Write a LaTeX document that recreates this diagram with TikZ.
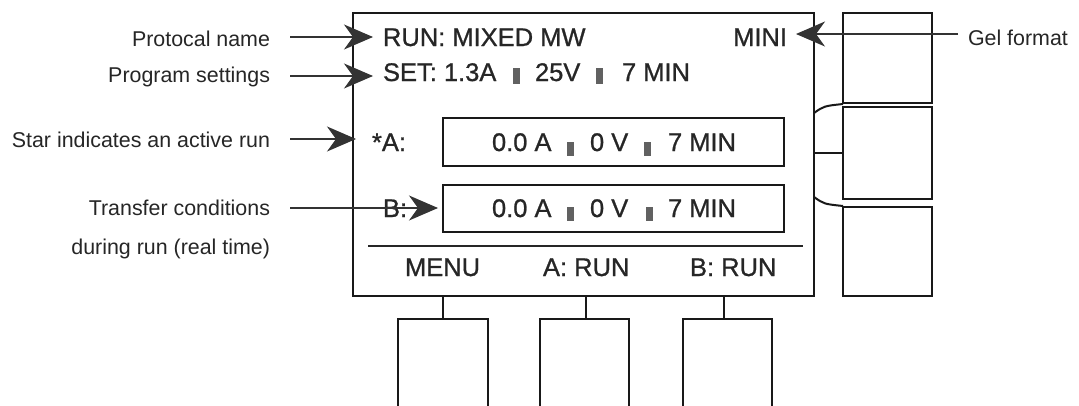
\documentclass[tikz,border=0pt]{standalone}
\usepackage{fontspec}
\setmainfont{Liberation Sans}
\newfontfamily\scrfont[FakeBold=0.9]{Liberation Sans}
\usetikzlibrary{arrows.meta}
\tikzset{
  boxline/.style={draw=black!90, line width=2.8pt},
  scr/.style={inner sep=0pt, outer sep=0pt, anchor=base west, text=black!85, font=\scrfont\fontsize{25.5}{28}\selectfont},
  lab/.style={inner sep=0pt, outer sep=0pt, anchor=base east, text=black!85, font=\fontsize{21.4}{24}\selectfont},
  pointer/.style={draw=black!80, line width=1.3pt, -{Stealth[length=29pt,width=25pt,inset=9pt]}},
  bar/.style={fill=black!62, draw=none},
  btn/.style={boxline, rectangle, inner sep=0pt, outer sep=0pt, fill=white}
}
\begin{document}
\begin{tikzpicture}[x=1pt,y=-1pt]
\useasboundingbox (0,0) rectangle (1079,405);
\fill[white] (0,0) rectangle (1079,405);
\begin{scope}
\clip (0,0) rectangle (1079,405);
% main screen
\node[btn, minimum width=461pt, minimum height=283pt] (screen) at (583.5,154.5) {};
% inner displays
\node[btn, minimum width=341pt, minimum height=48pt] (dispA) at (613.5,142) {};
\node[btn, minimum width=341pt, minimum height=47pt] (dispB) at (613.5,208.5) {};
\coordinate (sepL) at (368,246);
\coordinate (sepR) at (803,246);
\draw[draw=black!85, line width=1.6pt] (sepL) -- (sepR);
% right buttons
\node[btn, minimum width=89pt, minimum height=90pt] (r1) at (887.5,58) {};
\node[btn, minimum width=89pt, minimum height=92pt] (r2) at (887.5,153) {};
\node[btn, minimum width=89pt, minimum height=89pt] (r3) at (887.5,251.5) {};
\coordinate (c1a) at (814,113);
\coordinate (c1b) at (843,104);
\coordinate (c3a) at (814,197);
\coordinate (c3b) at (843,206);
\draw[boxline, line width=2pt] (c1a) .. controls (824,106) .. (c1b);
\draw[boxline, line width=2pt] (c3a) .. controls (824,204) .. (c3b);
\draw[boxline, line width=2pt] (r2.west) -- (r2.west -| screen.east);
% bottom buttons
\node[btn, minimum width=90pt, minimum height=101pt] (b1) at (443,369.5) {};
\node[btn, minimum width=89pt, minimum height=101pt] (b2) at (584.5,369.5) {};
\node[btn, minimum width=89pt, minimum height=101pt] (b3) at (727.5,369.5) {};
\draw[boxline] (b1.north) -- (b1.north |- screen.south);
\draw[boxline] ([xshift=1.5pt]b2.north) -- ([xshift=1.5pt]b2.north |- screen.south);
\draw[boxline] ([xshift=-3.5pt]b3.north) -- ([xshift=-3.5pt]b3.north |- screen.south);
\end{scope}
% screen texts
\node[scr] (t1) at (383,46) {RUN: MIXED MW};
\node[scr, anchor=base east] (t2) at (787,46) {MINI};
\node[scr] (t3) at (383,81) {SET: 1.3A};
\node[scr] (t4) at (535,81) {25V};
\node[scr] (t5) at (622,81) {7 MIN};
\fill[bar] (513,68) rectangle (520,84);
\fill[bar] (596,68) rectangle (603,84);
\node[scr] (a0) at (372,151) {*A:};
\node[scr] (a1) at (492,151) {0.0 A};
\node[scr] (a2) at (590,151) {0 V};
\node[scr] (a3) at (668,151) {7 MIN};
\fill[bar] (567,142) rectangle (574,156);
\fill[bar] (644,142) rectangle (651,156);
\node[scr] (bb0) at (383,217) {B:};
\node[scr] (bb1) at (492,217) {0.0 A};
\node[scr] (bb2) at (590,217) {0 V};
\node[scr] (bb3) at (668,217) {7 MIN};
\fill[bar] (567,207) rectangle (574,221);
\fill[bar] (646,207) rectangle (653,221);
\node[scr] (m1) at (405,276) {MENU};
\node[scr] (m2) at (543,276) {A: RUN};
\node[scr] (m3) at (690,276) {B: RUN};
% labels
\node[lab] (l1) at (270,46) {Protocal name};
\node[lab] (l2) at (270,82) {Program settings};
\node[lab] (l3) at (270,147) {Star indicates an active run};
\node[lab] (l4) at (270,215) {Transfer conditions};
\node[lab] (l5) at (270,254) {during run (real time)};
\node[lab, anchor=base west] (l6) at (968,45) {Gel format};
% pointers
\coordinate (p1s) at (290,37);  \coordinate (p1e) at (373,37);
\coordinate (p2s) at (290,76);  \coordinate (p2e) at (373,76);
\coordinate (p3s) at (290,139); \coordinate (p3e) at (356,139);
\coordinate (p4s) at (290,208); \coordinate (p4e) at (438,208);
\coordinate (p6s) at (958,34);  \coordinate (p6e) at (796,34);
\draw[pointer] (p1s) -- (p1e);
\draw[pointer] (p2s) -- (p2e);
\draw[pointer] (p3s) -- (p3e);
\draw[pointer] (p4s) -- (p4e);
\draw[pointer] (p6s) -- (p6e);
\end{tikzpicture}
\end{document}
